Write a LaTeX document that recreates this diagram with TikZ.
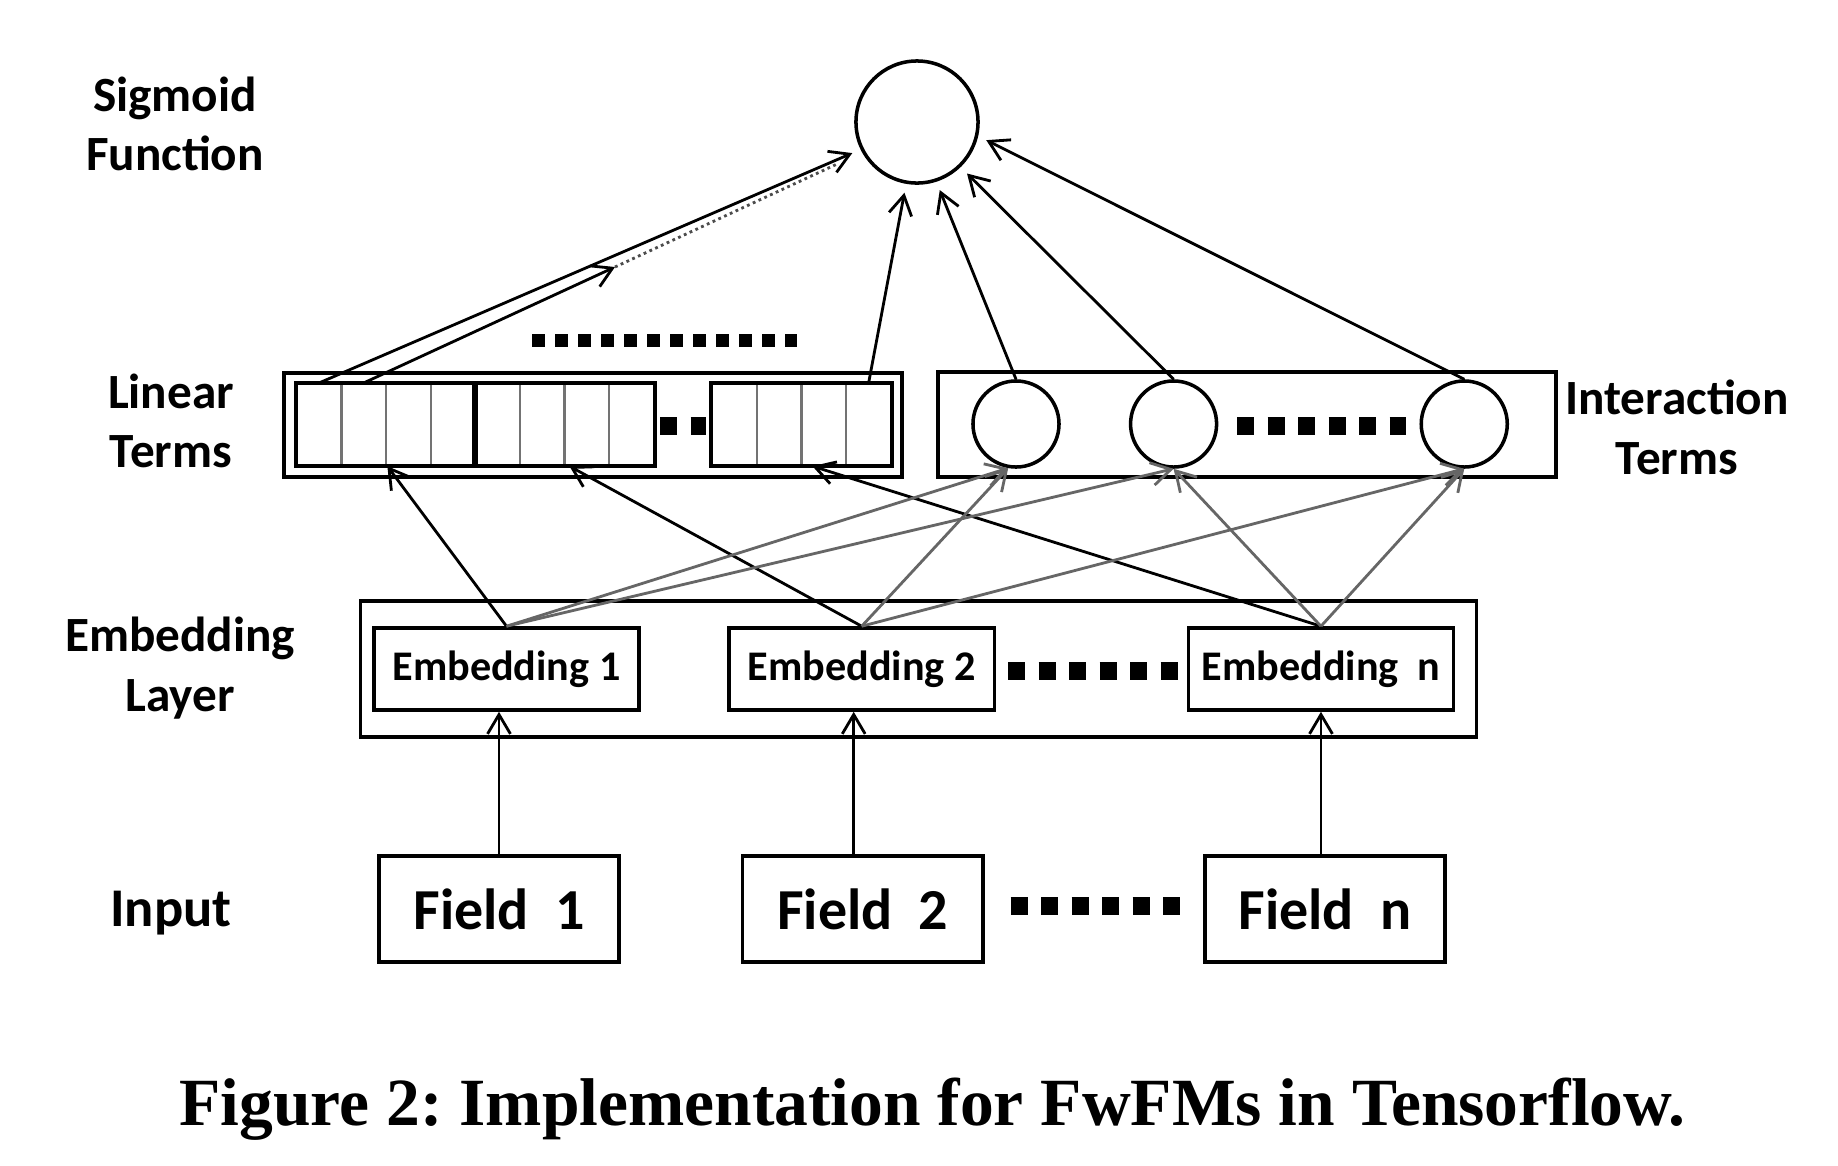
\documentclass[tikz,border=0pt]{standalone}
\usepackage{fontspec}
\setmainfont{Carlito}
\newfontfamily\capfont{Liberation Serif}
\usetikzlibrary{arrows.meta,fit,positioning}
\tikzset{
    %Define standard arrow tip
    >={Straight Barb[length=5.5pt,width=6.5pt]},
    %Define style for boxes
    punkt/.style={
           rectangle,
           draw,
           line width=1pt,
           inner sep=0pt,
           text centered},
    embbox/.style={
           punkt,
           minimum width=2.65cm,
           minimum height=0.82cm,
           font=\bfseries\fontsize{12}{14}\selectfont},
    fieldbox/.style={
           punkt,
           minimum width=2.40cm,
           minimum height=1.06cm,
           font=\bfseries\fontsize{16.5}{20}\selectfont},
    rectouter/.style={
      draw,
      line width=1pt
    },
    neuron/.style={
      circle,
      draw,
      line width=1pt,
      inner sep=0pt},
    cell/.style={
      rectangle,
      draw=black!55,
      line width=0.65pt,
      inner sep=0pt,
      minimum width=0.446cm,
      minimum height=0.81cm},
    lbl/.style={
      font=\bfseries\fontsize{14}{17}\selectfont,
      align=center},
    % square dots
    bigdots/.style={line width=0.18cm, dash pattern=on 0.17cm off 0.135cm},
    smalldots/.style={line width=0.13cm, dash pattern=on 0.13cm off 0.10cm},
    % Define arrow style
    pil/.style={
           ->,
           line width=0.8pt},
    pilgray/.style={
           pil,
           draw=black!60}
}

\begin{document}
\begin{tikzpicture}[x=0.01cm, y=-0.01cm, node distance=1cm]
 \useasboundingbox (0,0) rectangle (1838,1166);

 % sigmoid output
 \node [neuron, minimum size=1.22cm] (sig) at (917,122) {};
 \node [lbl] (sigtitle) at (175,124) {Sigmoid\\Function};

 % linear terms
 \node [rectouter, minimum width=6.18cm, minimum height=1.04cm] (linear) at (593,425) {};
 \foreach \i in {1,...,8}
   \node [cell] (cell\i) at (297+44.6*\i-22.3, 424.5) {};
 \foreach \i in {9,...,12}
   \node [cell] (cell\i) at (734.4+44.75*\i-402.75, 424.5) {};
 \node [draw, line width=1pt, inner sep=0pt, fit={(cell1) (cell4)}] (grpa) {};
 \node [draw, line width=1pt, inner sep=0pt, fit={(cell5) (cell8)}] (grpb) {};
 \node [draw, line width=1pt, inner sep=0pt, fit={(cell9) (cell12)}] (grpc) {};
 \node [lbl] (lintitle) at (171,421) {Linear\\Terms};
 \coordinate (linmid) at (615,267);

 % interaction terms
 \node [rectouter, minimum width=6.18cm, minimum height=1.05cm] (inter) at (1247,424.5) {};
 \node [neuron, minimum size=0.86cm] (c1) at (1016,424) {};
 \node [neuron, minimum size=0.86cm, right of=c1, node distance=1.575cm] (c2) {};
 \node [neuron, minimum size=0.86cm, right of=c2, node distance=2.905cm] (c3) {};
 \node [lbl] (intertitle) at (1677,427) {Interaction\\Terms};

 % embedding layer
 \node [rectouter, minimum width=11.15cm, minimum height=1.36cm] (emblayer) at (918.5,669) {};
 \node [embbox] (e1) at (506.5,669) {Embedding 1};
 \node [embbox, right of=e1, node distance=3.55cm] (e2) {Embedding 2};
 \node [embbox, right of=e2, node distance=4.59cm] (en) {Embedding\ \ n};
 \node [lbl] (embtitle) at (180,668) {Embedding\\Layer};

 % input fields
 \node [fieldbox] (f1) at (499,909) {Field\ \ 1};
 \node [fieldbox, right of=f1, node distance=3.635cm] (f2) {Field\ \ 2};
 \node [fieldbox, right of=f2, node distance=4.62cm] (fn) {Field\ \ n};
 \node [lbl, font=\bfseries\fontsize{15.5}{18}\selectfont] (inputtitle) at (171,913) {Input};

 % dots
 \draw [smalldots] (532,340.5) -- (797,340.5);
 \draw [bigdots] (660,425.5) -- (706,425.5);
 \draw [bigdots] (1237,426) -- (1406,426);
 \draw [bigdots] (1008,670.5) -- (1180,670.5);
 \draw [bigdots] (1010.6,906) -- (1181,906);

 % paths
 \draw [pil] (f1.north) -- (f1.north |- e1.south);
 \draw [pil] ([xshift=-0.09cm]f2.north) -- ([xshift=-0.09cm]f2.north |- e2.south);
 \draw [pil] ([xshift=-0.04cm]fn.north) -- ([xshift=-0.04cm]fn.north |- en.south);

 \draw [pil] (e1.north) -- (cell2.south east);
 \draw [pil] (e2.north) -- ([xshift=0.06cm]cell7.south west);
 \draw [pil] (en.north) -- ([xshift=0.12cm]cell11.south west);
 \draw [pilgray] (e1.north) -- (c1.-100);
 \draw [pilgray] (e1.north) -- (c2.south);
 \draw [pilgray] (e2.north) -- (c1.-100);
 \draw [pilgray] (e2.north) -- (c3.south);
 \draw [pilgray] (en.north) -- (c2.south);
 \draw [pilgray] (en.north) -- (c3.south);

 \draw [pil, shorten >=0.09cm] (cell1.north) -- (sig.-154);
 \draw [pil] (cell2.north) -- (linmid);
 \draw [densely dotted, line width=0.8pt, draw=black!70, shorten >=0.26cm] (linmid) -- (sig.-151);
 \draw [pil, shorten >=0.09cm] (cell12.north) -- (sig.-100);
 \draw [pil, shorten >=0.09cm] (c1.north) -- (sig.-72);
 \draw [pil, shorten >=0.09cm] (c2.north) -- (sig.-46);
 \draw [pil, shorten >=0.09cm] (c3.north) -- (sig.-13);

 % caption
 \node [font=\capfont\bfseries\fontsize{19.2}{23}\selectfont\frenchspacing, anchor=base] (caption) at (932.5,1125) {Figure 2: Implementation for FwFMs in Tensorflow.};
\end{tikzpicture}
\end{document}
